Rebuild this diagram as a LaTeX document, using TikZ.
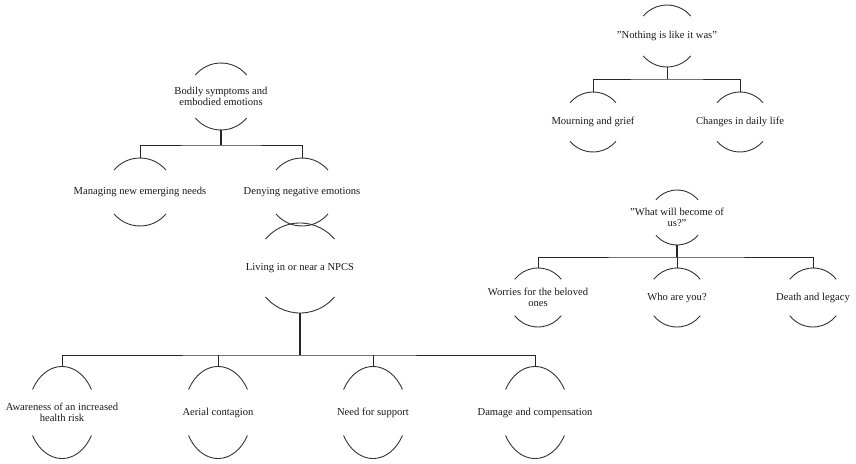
\documentclass[tikz,border=0pt]{standalone}
\usepackage{fontspec}
\setmainfont{Liberation Serif}
\tikzset{
  nd/.style={shape=rectangle, inner sep=0pt, align=center, font=\fontsize{10.6}{11.5}\selectfont, text=black!90},
  arcline/.style={draw=black!80, line width=0.9pt},
  bar/.style={draw=black!85, line width=0.95pt},
  stub/.style={draw=black!85, line width=1.6pt},
}
\newcommand\ovl[4]{%
  \draw[arcline] ([shift={(#4:#2pt and #3pt)}]#1.center) arc[start angle=#4, end angle=180-#4, x radius=#2pt, y radius=#3pt];
  \draw[arcline] ([shift={(180+#4:#2pt and #3pt)}]#1.center) arc[start angle=180+#4, end angle=360-#4, x radius=#2pt, y radius=#3pt];
}
\newcommand\sq{\symbol{34}}
\begin{document}
\begin{tikzpicture}[x=1pt,y=-1pt]
\useasboundingbox (0,0) rectangle (856,463);
% ---- Bodily tree
\node[nd, minimum height=67pt] (bod) at (221,96.5) {Bodily symptoms and\\embodied emotions};
\node[nd, minimum height=68pt] (man) at (140,192) {Managing new emerging needs};
\node[nd, minimum height=68pt] (den) at (302,192) {Denying negative emotions};
\ovl{bod}{33.5}{33.5}{40}
\ovl{man}{34}{34}{40}
\ovl{den}{34}{34}{40}
\coordinate (b1) at (221,145);
\draw[stub] (bod.south) -- (b1);
\draw[bar] (man.north) |- (b1) -| (den.north);
% ---- Living tree
\node[nd, minimum height=90pt] (liv) at (300,268) {Living in or near a NPCS};
\ovl{liv}{45}{45}{40}
\node[nd, minimum height=92pt] (awa) at (62,412.5) {Awareness of an increased\\health risk};
\node[nd, minimum height=92pt] (aer) at (218,412.5) {Aerial contagion};
\node[nd, minimum height=92pt] (nee) at (373,412.5) {Need for support};
\node[nd, minimum height=92pt] (dam) at (535,412.5) {Damage and compensation};
\ovl{awa}{34}{46}{30}
\ovl{aer}{34}{46}{30}
\ovl{nee}{34}{46}{30}
\ovl{dam}{34}{46}{30}
\coordinate (b2) at (300,355);
\draw[stub] (liv.south) -- (b2);
\draw[bar] (awa.north) |- (b2) -| (dam.north);
\draw[bar] (aer.north) -- (aer.north |- b2);
\draw[bar] (nee.north) -- (nee.north |- b2);
% ---- Nothing tree
\node[nd, minimum height=62pt] (not) at (667,36) {\sq Nothing is like it was\sq};
\node[nd, minimum height=60pt] (mou) at (593,122) {Mourning and grief};
\node[nd, minimum height=60pt] (cha) at (740,122) {Changes in daily life};
\ovl{not}{31}{31}{40}
\ovl{mou}{30}{30}{40}
\ovl{cha}{30}{30}{40}
\coordinate (b3) at (667,79);
\draw[bar] (not.south) -- (b3);
\draw[bar] (mou.north) |- (b3) -| (cha.north);
% ---- What tree
\node[nd, minimum height=55pt] (wha) at (677,217.5) {\sq What will become of\\us?\sq};
\node[nd, minimum height=59pt] (wor) at (538,297.5) {Worries for the beloved\\ones};
\node[nd, minimum height=59pt] (who) at (677,297.5) {Who are you?};
\node[nd, minimum height=59pt] (dea) at (813,297.5) {Death and legacy};
\ovl{wha}{27.5}{27.5}{40}
\ovl{wor}{29.5}{29.5}{38}
\ovl{who}{29.5}{29.5}{38}
\ovl{dea}{29.5}{29.5}{38}
\coordinate (b4) at (677,257);
\draw[stub] (wha.south) -- (b4);
\draw[bar] (wor.north) |- (b4) -| (dea.north);
\draw[bar] (who.north) -- (who.north |- b4);
\end{tikzpicture}
\end{document}
